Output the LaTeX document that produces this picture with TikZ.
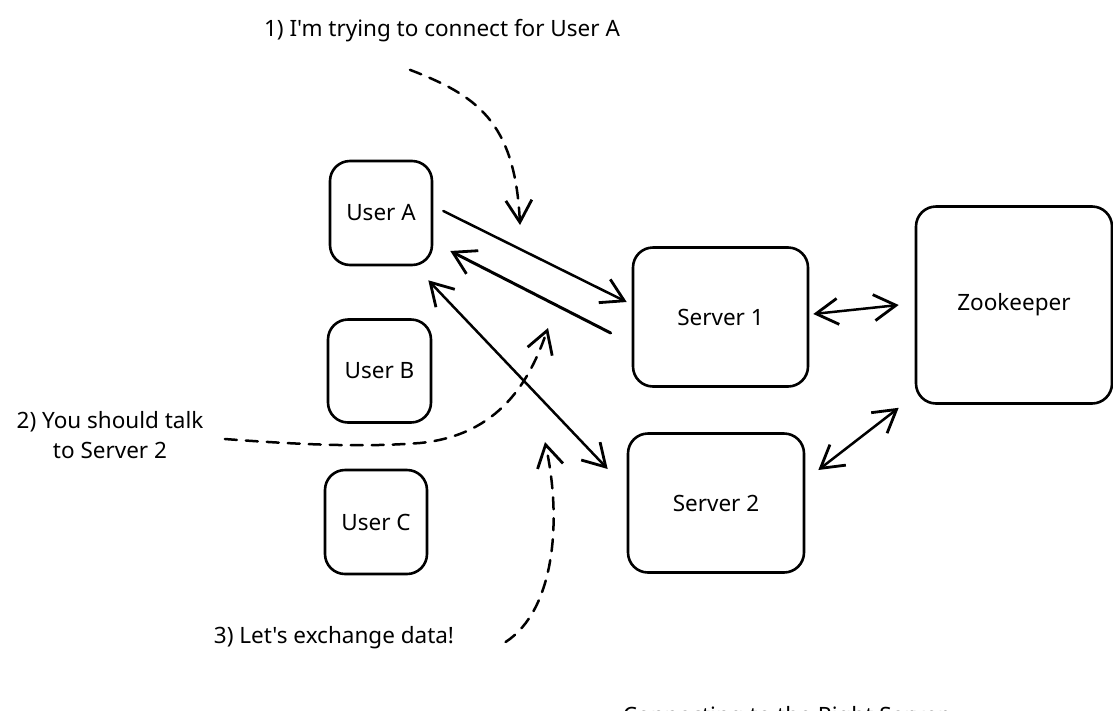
\documentclass[tikz,border=0pt]{standalone}
\usepackage{fontspec}
\setmainfont{Noto Sans}[Ligatures=TeXOff]
\usepackage{tikz}
\usetikzlibrary{arrows.meta, calc, positioning}

\begin{document}
\begin{tikzpicture}[
            x=1pt, y=-1pt,
            box/.style={rectangle, draw, line width=2.6pt, rounded corners=20pt, font=\fontsize{22.5}{27}\selectfont},
            arrow/.style={-{Straight Barb[length=22pt, width=26pt, line width=2.8pt]}, line width=2.5pt, line cap=round},
            twoway/.style={{Straight Barb[length=22pt, width=26pt, line width=2.8pt]}-{Straight Barb[length=22pt, width=26pt, line width=2.8pt]}, line width=2.5pt, line cap=round},
            hint/.style={arrow, dash pattern=on 12pt off 9pt},
            note/.style={font=\fontsize{22.5}{30}\selectfont, align=center}
        ]
            \useasboundingbox (0,0) rectangle (1113,710);

            % users
            \node[box, minimum width=102pt, minimum height=104pt] (userA) at (381,213) {User A};
            \node[box, minimum width=103pt, minimum height=103pt] (userB) at (379.5,371) {User B};
            \node[box, minimum width=102pt, minimum height=104pt] (userC) at (376,522) {User C};

            % servers
            \node[box, minimum width=175pt, minimum height=139pt] (server1) at (720.5,317) {Server 1};
            \node[box, minimum width=176pt, minimum height=139pt] (server2) at (716,503) {Server 2};
            \node[box, minimum width=196pt, minimum height=197pt] (zk) at (1014,305) {Zookeeper};

            % notes
            \node[note] (note1) at (442,31) {1) I'm trying to connect for User A};
            \node[note] (note2) at (110,435) {2) You should talk\\to Server 2};
            \node[note] (note3) at (334,638) {3) Let's exchange data!};
            \node[note] (title) at (785,718) {Connecting to the Right Server};

            \coordinate (tip1) at (520,225);
            \coordinate (tip2) at (548,328);
            \coordinate (tip3) at (545,442);

            \draw[arrow] ($(userA.east)+(10,-2)$) -- ($(server1.west)+(-5,-15)$);
            \draw[arrow, line width=3pt] ($(server1.west)+(-21,16)$) -- ($(userA.east)+(17,38)$);
            \draw[twoway] ($(userA.south east)+(-5,14)$) -- ($(server2.west)+(-19,-34)$);
            \draw[twoway] ($(server1.east)+(4,-3)$) -- ($(zk.west)+(-16,0)$);
            \draw[twoway] ($(server2.east)+(13,-33)$) -- ($(zk.south west)+(-16,3)$);

            \draw[hint] ($(note1.south)+(-32,24)$) .. controls (475,95) and (515,120) .. (tip1);
            \draw[hint] ($(note2.east)+(18,4)$) .. controls (330,447) and (380,446) .. (420,443)
                .. controls (500,435) and (530,380) .. (tip2);
            \draw[hint] ($(note3.east)+(48,4)$) .. controls (555,610) and (562,520) .. (tip3);
        \end{tikzpicture}
\end{document}
